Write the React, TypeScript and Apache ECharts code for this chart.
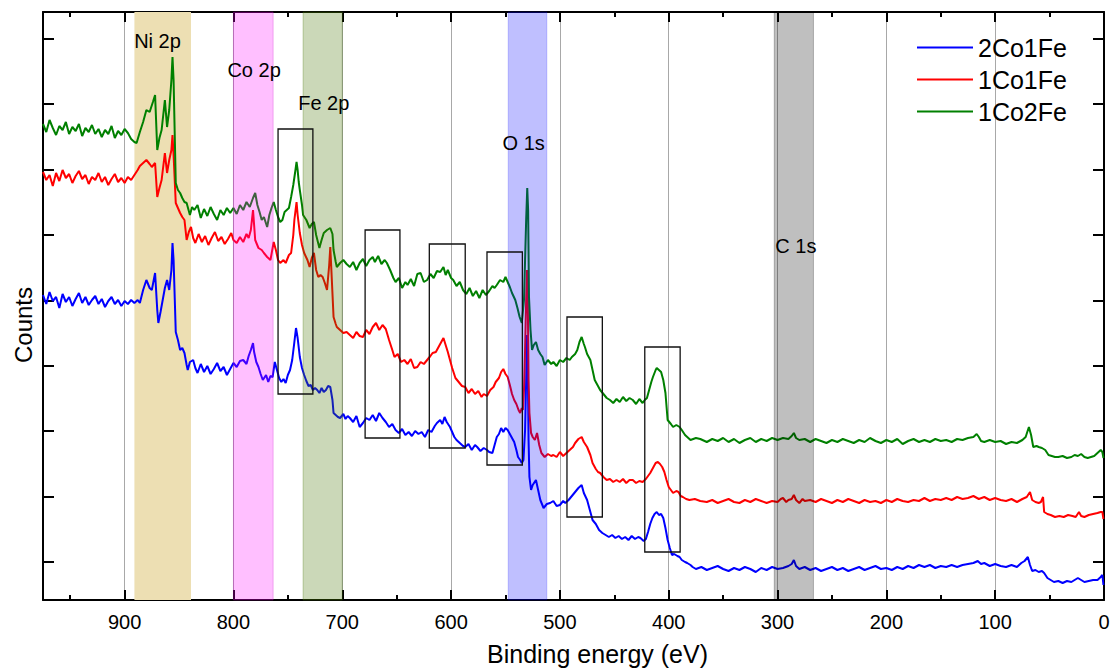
import React, { useEffect, useRef } from "react";
import * as echarts from "echarts";

const seriesNames = ["2Co1Fe", "1Co1Fe", "1Co2Fe"];

// Binding energy (eV), counts (a.u.)
const blue2Co1Fe: [number, number][] = [
[975,305],[972,296],[969,308],[966,299],[963,303],[960,292],[957,306],[954,298],[951,303],[948,294],[945,301],[942,307],[939,297],[936,303],[933,295],[930,300],[927,304],[924,296],[921,301],[918,293],[915,299],[912,303],[909,296],[906,300],[903,294],[900,299],[897,296],[894,300],[891,297],[888,300],[886,297],[883,310],[880,320],[877,312],[875,310],[872,327],[870,290],[869,277],[867,288],[865,300],[863,312],[861,320],[859,310],[857,330],[856,357],[855,340],[853,268],[851,260],[849,250],[847,252],[845,247],[843,235],[842,230],[840,238],[837,240],[835,232],[833,227],
[830,236],[827,228],[824,234],[821,226],[818,231],[815,237],[812,229],[809,233],[806,225],[803,231],[800,237],[797,233],[794,239],[791,240],[788,236],[786,244],[784,250],[782,257],[781,248],[779,238],[777,233],[775,226],[773,220],[770,225],[768,218],[766,224],[764,223],[762,238],[760,230],[758,222],[756,218],[754,221],[752,217],[750,225],[748,230],[746,240],[744,258],[742.5,272],[741,262],[739,243],[737,232],[735,225],[733,219],[731,214],[729,215],[727,210],[725,212],[723,210],[721,207],[719,212],[717,208],[715,210],[713,214],[711,213],[709,200],[708,187],[706,185],[704,183],[702,182],[699,186],[697,181],[695,184],[693,182],
[690,178],[687,184],[684,173],[681,177],[678,182],[675,180],[672,185],[669,179],[666,187],[663,182],[660,178],[657,173],[654,176],[651,170],[648,167],[645,171],[642,165],[639,168],[636,164],[633,169],[630,166],[627,168],[624,163],[621,170],[618,168],[615,174],[613,177],[610,180],[608,176],[606,183],[604,178],[601,173],[599,168],[597,163],[595,160],[592,157],[589,154],[587,153],[584,156],[581,150],[578,155],[576,153],[573,149],[570,152],[567,150],[565,148],[562,147],[560,155],[558,163],[556,166],[554,172],[552,168],[550,172],[548,170],[546,166],[544,162],[542,158],[540,150],[538.5,143],[536.5,140],[535,137],[533.5,140],[532,170],[531,220],[530.2,265],[529.5,235],[528.8,160],[528,123],[526.5,110],[525,115],[522,120],[520,110],[518,100],[515,92],[512,96],[509,97],[506,99],[503,94],[500,95],[497,99],[495,97],[492,100],[489,104],[486,108],[483,112],[480,115],[478,107],[475,100],[473,92],[470,80],[467,76],[464,70],[461,67],[458,65],[455,63],[452,65],[449,62],[446,64],[443,61],[440,63],[437,60],[434,64],[431,61],[428,63],[426,62],[423,59],[421,61],[419,68],[417,76],[415,82],[413,86],[411,88],[409,85],[407,86],[405,82],[403,72],[401,60],[399,52],[397,45],[395,46],[392,44],[390,43],[388,40],[385,38],[383,37],[380,35],[378,33],
[375,31],[370,33],[365,30],[360,32],[355,34],[350,31],[345,29],[340,32],[335,30],[330,33],[325,31],[320,28],[315,32],[310,30],[305,33],[300,31],[295,32],[290,34],[287,36],[285,40],[283,34],[280,31],[275,33],[270,30],[265,32],[260,29],[255,31],[250,33],[245,30],[240,32],[235,29],[230,31],[225,33],[220,30],[215,32],[210,34],[205,31],[200,32],[195,30],[190,33],[185,31],[180,34],[175,32],[170,35],[165,33],[160,35],[155,32],[150,34],[145,33],[140,35],[135,33],[130,35],[125,36],[120,37],[116,39],[113,36],[110,37],[105,34],[100,36],[95,34],[90,33],[85,35],[80,33],[76,37],[73,39],[70,43],[68,35],[66,29],[63,30],[60,28],[57,29],[55,27],[52,22],[49,20],[46,18],[42,19],[38,17],[34,19],[30,18],[27,20],[24,22],[21,20],[18,18],[14,19],[10,20],[6,20],[3,23],[1.5,25],[0.5,15]
];

const red1Co1Fe: [number, number][] = [
[975,428],[972,420],[969,425],[966,414],[963,427],[960,419],[957,430],[954,422],[951,426],[948,417],[945,424],[942,429],[939,421],[936,425],[933,416],[930,423],[927,420],[924,427],[921,418],[918,423],[915,415],[912,421],[909,426],[906,418],[903,422],[900,417],[897,423],[894,420],[891,425],[888,430],[886,434],[883,437],[880,440],[877,436],[875,433],[872,437],[870,403],[868,412],[866,420],[863,447],[861,427],[859,440],[857,450],[856,465],[855,445],[853,397],[851,392],[849,387],[847,383],[845,380],[843,360],[841,368],[839,373],[837,362],[835,357],
[832,366],[829,358],[826,364],[823,355],[820,362],[817,368],[814,359],[811,363],[808,356],[805,361],[802,367],[800,360],[797,357],[794,363],[791,358],[788,366],[786,362],[784,370],[782,390],[781,375],[780,360],[777,352],[774,350],[772,347],[769,343],[766,340],[763,358],[761,350],[759,340],[757,337],[754,340],[752,337],[749,345],[747,347],[745,365],[744,380],[742,398],[741,385],[739,367],[737,355],[735,347],[732,340],[730,333],[728,342],[726,347],[724,330],[722,323],[720,325],[718,323],[716,317],[714,310],[712,335],[711,353],[710,330],[708,283],[706,276],[705,273],[702,270],[699,267],[696,268],[693,265],
[690,262],[687,268],[684,264],[681,263],[678,270],[675,266],[672,273],[669,277],[666,270],[663,275],[660,271],[657,260],[654,250],[652,243],[649,246],[646,238],[643,240],[640,236],[637,241],[634,232],[631,233],[628,238],[625,236],[622,240],[619,244],[617,247],[614,248],[611,254],[609,258],[607,262],[605,255],[603,248],[601,240],[599,232],[596,222],[593,218],[590,214],[587,213],[584,207],[581,211],[578,206],[575,209],[572,203],[570,206],[567,204],[564,210],[561,213],[559,218],[556,222],[554,228],[552,231],[550,226],[548,223],[546,215],[544,206],[542,200],[540,196],[538,190],[536.5,187],[535,192],[534,190],[533,210],[532,250],[531,300],[530.2,330],[529.5,300],[528.8,220],[528,187],[526.5,167],[525,163],[523,160],[521,167],[519,155],[517,147],[514,143],[511,146],[508,144],[506,145],[503,143],[500,148],[497,144],[494,147],[491,150],[488,153],[486,157],[483,161],[480,163],[478,158],[475,153],[472,145],[470,137],[467,131],[465,128],[463,127],[460,123],[457,120],[454,121],[451,118],[448,120],[445,118],[442,121],[439,117],[436,120],[433,120],[430,117],[427,119],[424,118],[421,121],[419,124],[417,127],[414,133],[412,137],[410,138],[408,136],[406,133],[404,128],[402,120],[400,113],[398,110],[396,107],[393,109],[391,108],[389,104],[387,103],[384,101],[381,100],[376,101],[371,99],
[365,98],[360,100],[355,97],[350,99],[345,101],[340,98],[335,97],[330,100],[325,98],[320,101],[315,99],[310,97],[305,99],[300,98],[297,101],[295,102],[292,98],[290,100],[287,101],[285,105],[283,100],[280,97],[277,101],[275,99],[270,100],[265,98],[260,101],[255,99],[250,97],[245,100],[240,98],[235,101],[230,99],[225,97],[220,100],[215,98],[210,99],[205,97],[200,100],[195,98],[190,101],[185,99],[180,98],[175,100],[170,99],[165,102],[160,99],[155,101],[150,100],[145,102],[140,100],[135,103],[130,101],[125,102],[120,104],[115,101],[110,103],[105,100],[100,102],[95,100],[90,99],[85,101],[80,98],[75,101],[71,103],[68,108],[66,100],[63,98],[60,97],[58,98],[56,103],[55,88],[52,86],[49,85],[45,83],[41,84],[37,83],[33,85],[29,84],[26,83],[23,88],[21,84],[18,83],[14,85],[10,86],[6,87],[3,88],[1.5,88],[0.5,81]
];

const green1Co2Fe: [number, number][] = [
[975,476],[972,468],[969,480],[966,472],[963,465],[960,474],[957,470],[954,478],[951,466],[948,473],[945,469],[942,476],[939,464],[936,472],[933,468],[930,475],[927,466],[924,471],[921,463],[918,470],[915,466],[912,474],[909,462],[906,469],[903,465],[900,471],[897,467],[894,461],[891,458],[889,457],[886,468],[883,478],[880,490],[877,488],[874,498],[872,505],[870,450],[868,462],[866,470],[863,500],[861,473],[859,490],[857,520],[856,543],[855,520],[853,417],[851,410],[849,407],[847,402],[845,398],[843,397],[840,385],[838,393],[836,390],[833,395],
[830,382],[827,391],[824,384],[821,393],[818,386],[815,380],[812,390],[809,385],[806,392],[803,387],[800,392],[797,386],[794,395],[791,390],[788,398],[785,393],[782,402],[780,407],[778,395],[776,388],[774,380],[772,383],[769,373],[767,385],[765,392],[763,398],[761,390],[759,383],[757,378],[755,380],[753,388],[751,390],[749,392],[747,403],[745,415],[743,430],[742,438],[741,430],[740,418],[739,410],[737,395],[736,385],[733,380],[730,372],[728,376],[726,378],[724,365],[721,352],[719,360],[717,367],[714,370],[711,372],[709,366],[708,350],[706,338],[705,333],[702,337],[699,340],[696,336],[693,333],
[690,338],[687,330],[684,337],[681,341],[678,334],[675,340],[672,343],[670,338],[667,344],[664,336],[661,340],[659,337],[656,330],[653,322],[651,318],[648,322],[645,312],[642,318],[640,315],[637,321],[634,314],[631,326],[628,327],[625,318],[622,320],[619,326],[616,322],[613,329],[610,328],[607,333],[605,325],[603,330],[600,322],[598,320],[595,314],[592,318],[589,310],[586,306],[583,312],[580,304],[577,309],[574,302],[571,310],[568,305],[565,309],[562,314],[560,312],[558,315],[555,320],[552,318],[550,323],[548,318],[546,313],[544,307],[541,300],[539,292],[537,283],[535,277],[533,300],[532,340],[531,380],[530,412],[529.2,390],[528.4,303],[527,270],[525.6,250],[524,255],[522,258],[520,250],[518,246],[516,243],[514,235],[511,240],[508,236],[506,238],[503,234],[500,240],[497,238],[494,242],[491,240],[489,243],[486,246],[484,250],[482,258],[480,263],[478,256],[477,253],[475,246],[472,240],[470,230],[468,220],[465,214],[463,210],[460,206],[457,202],[454,200],[451,197],[448,201],[445,198],[442,203],[439,199],[436,202],[433,200],[430,196],[427,201],[424,197],[422,200],[420,202],[418,210],[416,218],[414.5,223],[412,230],[411,232],[409,230],[407,228],[405,220],[403,207],[401,180],[398,176],[396,173],[393,175],[390,173],[388,170],[385,165],[383,163],[380,160],[375,162],[371,161],
[365,158],[360,161],[355,159],[350,162],[345,158],[340,161],[335,157],[330,160],[325,162],[320,158],[315,161],[310,159],[305,162],[300,160],[295,162],[290,161],[287,164],[285,167],[283,162],[280,160],[275,161],[270,158],[265,161],[260,159],[255,157],[250,160],[245,158],[240,161],[235,159],[230,157],[225,160],[220,158],[215,162],[210,159],[205,157],[200,160],[195,158],[190,161],[185,156],[180,159],[175,161],[170,158],[165,160],[160,158],[155,161],[150,159],[145,160],[140,158],[135,161],[130,160],[125,162],[120,163],[117,166],[115,163],[113,159],[110,158],[105,160],[100,158],[95,159],[90,156],[85,158],[80,157],[75,160],[72,163],[69,173],[67,165],[65,153],[62,154],[60,153],[57,152],[54,150],[51,145],[48,144],[45,143],[42,143],[38,144],[34,142],[30,143],[27,145],[24,144],[21,146],[18,143],[15,142],[12,143],[9,144],[6,147],[3,150],[1.5,148],[0.5,142]
];

const yTickValues = [38, 103.4, 168.8, 234.2, 299.6, 365, 430.4, 495.8, 561.2];

// element regions (eV)
const niBand = [891, 839];
const coBand = [800, 763.5];
const feBand = [736, 700];
const oBand = [547.5, 512];
const cBand = [303, 267];

// highlighted regions [E1, E2, countsLow, countsHigh]
const boxes: number[][] = [
  [759, 727, 206, 471],
  [679, 647, 162, 370],
  [620, 587, 152, 356],
  [567, 534.5, 135, 348],
  [493.5, 461, 83, 283],
  [422, 389.5, 48, 253],
];

const labelTexts = ["Ni 2p", "Co 2p", "Fe 2p", "O 1s", "C 1s"];
const labelEnergies = [869.8, 781, 717, 533.3, 283.2];
const labelCounts = [559, 530, 497, 457.5, 354];

const font = "'Liberation Sans', Arial, Helvetica, sans-serif";

function buildOption() {
  const black = "#000";
  const tickCommon = {
    show: true,
    inside: true,
    length: 10,
    lineStyle: { color: black, width: 2 },
  };
  const minorCommon = {
    show: true,
    splitNumber: 2,
    length: 5,
    lineStyle: { color: black, width: 2 },
  };
  const xBase = {
    type: "value",
    min: 0,
    max: 975,
    inverse: true,
    interval: 100,
    axisLine: { show: true, onZero: false, lineStyle: { color: black, width: 2 } },
    axisTick: tickCommon,
    minorTick: minorCommon,
  };
  const yBase = {
    type: "value",
    min: 0,
    max: 588,
    axisLine: { show: true, onZero: false, lineStyle: { color: black, width: 2 } },
    axisTick: { ...tickCommon, length: 11, customValues: yTickValues },
    axisLabel: { show: false },
    splitLine: { show: false },
  };
  const colors = ["#0000ff", "#ff0000", "#008000"];
  const datasets = [blue2Co1Fe, red1Co1Fe, green1Co2Fe];

  const band = (r: number[], fill: string, border: string) => [
    { xAxis: r[0], itemStyle: { color: fill, borderColor: border, borderWidth: 1 } },
    { xAxis: r[1] },
  ];

  const series: any[] = datasets.map((d, i) => ({
    name: seriesNames[i],
    type: "line",
    data: d,
    showSymbol: false,
    symbol: "none",
    silent: true,
    z: 2,
    lineStyle: { color: colors[i], width: 2 },
    itemStyle: { color: colors[i] },
  }));

  series[0].markArea = {
    silent: true,
    z: 1,
    label: { show: false },
    data: [[{ xAxis: niBand[0], itemStyle: { color: "#eddfb3" } }, { xAxis: niBand[1] }]],
  };
  series[1].markArea = {
    silent: true,
    z: 10,
    label: { show: false },
    data: [
      band(coBand, "rgba(255,0,255,0.25)", "rgba(200,0,200,0.25)"),
      band(feBand, "rgba(70,115,0,0.28)", "rgba(70,115,0,0.3)"),
      band(oBand, "rgba(0,0,255,0.25)", "rgba(0,0,255,0.2)"),
      band(cBand, "rgba(0,0,0,0.25)", "rgba(0,0,0,0.25)"),
      ...boxes.map((b) => [
        {
          xAxis: b[0],
          yAxis: b[2],
          itemStyle: { color: "rgba(0,0,0,0)", borderColor: "#111", borderWidth: 1.3 },
        },
        { xAxis: b[1], yAxis: b[3] },
      ]),
    ],
  };
  series[2].markPoint = {
    silent: true,
    z: 12,
    symbol: "rect",
    symbolSize: 1,
    itemStyle: { color: "rgba(0,0,0,0)" },
    label: {
      show: true,
      position: "inside",
      color: black,
      fontSize: 20,
      fontFamily: font,
    },
    data: labelTexts.map((t, i) => ({
      coord: [labelEnergies[i], labelCounts[i]],
      value: 0,
      label: { formatter: t },
    })),
  };

  return {
    animation: false,
    backgroundColor: "#fff",
    grid: { left: 43, right: 8, top: 12, bottom: 68, containLabel: false, outerBoundsMode: "none" },
    legend: {
      data: seriesNames,
      orient: "vertical",
      left: 917,
      top: 35,
      padding: 0,
      icon: "rect",
      itemWidth: 56,
      itemHeight: 2,
      itemGap: 7,
      textStyle: { fontSize: 25, color: black, fontFamily: font },
      selectedMode: false,
    },
    xAxis: [
      {
        ...xBase,
        position: "bottom",
        name: "Binding energy (eV)",
        nameLocation: "middle",
        nameGap: 41,
        nameTextStyle: { fontSize: 25, color: black, fontFamily: font, padding: [0, 0, 0, 48] },
        axisLabel: {
          show: true,
          fontSize: 20,
          color: black,
          fontFamily: font,
          margin: 12,
          showMaxLabel: false,
        },
        splitLine: { show: true, lineStyle: { color: "#a8a8a8", width: 1 } },
      },
      {
        ...xBase,
        position: "top",
        axisLabel: { show: false },
        splitLine: { show: false },
      },
    ],
    yAxis: [
      {
        ...yBase,
        position: "left",
        name: "Counts",
        nameLocation: "middle",
        nameGap: 8,
        nameTextStyle: { fontSize: 24, color: black, fontFamily: font, padding: [0, 38, 0, 0] },
      },
      { ...yBase, position: "right" },
    ],
    series,
  };
}

export default function App() {
  const ref = useRef<HTMLDivElement>(null);
  useEffect(() => {
    document.body.style.margin = "0";
    const chart = echarts.init(ref.current as HTMLDivElement, null, { renderer: "svg" });
    chart.setOption(buildOption() as any);
    return () => chart.dispose();
  }, []);
  return <div ref={ref} style={{ width: 1112, height: 668 }} />;
}
